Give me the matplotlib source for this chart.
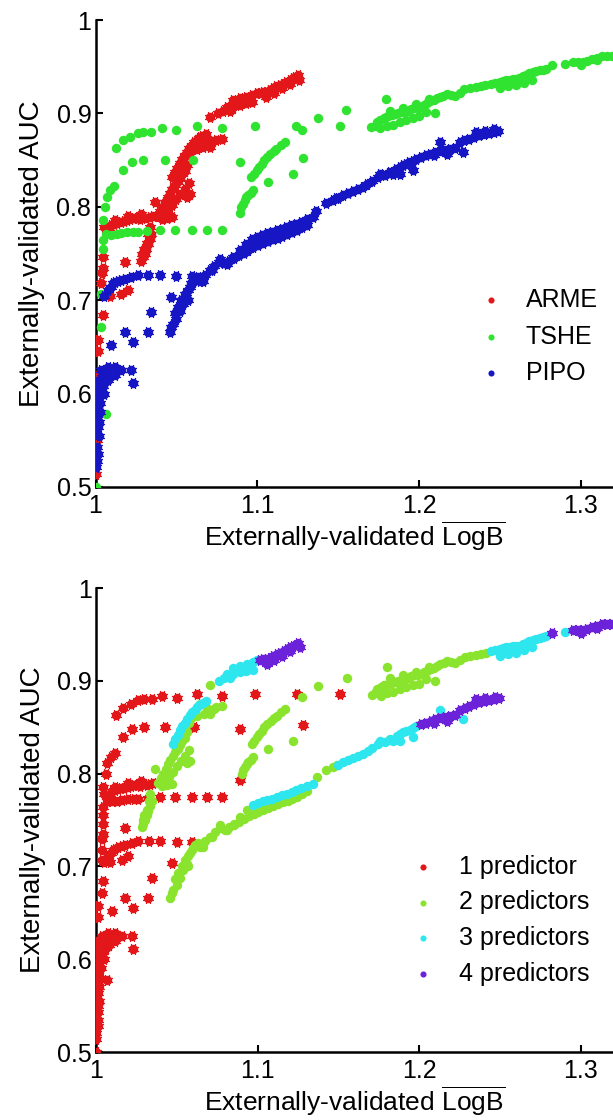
import matplotlib
matplotlib.use('Agg')
import matplotlib.pyplot as plt
from matplotlib.ticker import FixedLocator, FixedFormatter

plt.rcParams['font.family'] = ['Liberation Sans', 'DejaVu Sans']
plt.rcParams['mathtext.fontset'] = 'custom'
plt.rcParams['mathtext.rm'] = 'Liberation Sans'
plt.rcParams['mathtext.it'] = 'Liberation Sans:italic'

# ---------------- data (externally-validated LogB, AUC) ----------------
# ARME
arme_1_x = [1.0050, 1.0085, 1.0098, 1.0115, 1.0135, 1.0155, 1.0175, 1.0195, 1.0215, 1.0235, 1.0255,
            1.0275, 1.0295, 1.0314, 1.0334, 1.0355, 1.0120, 1.0200, 1.0280,
            1.0046, 1.0046, 1.0040, 1.0036, 1.0180, 1.0088, 1.0159, 1.0200, 1.0046,
            1.0015, 1.0015, 1.0000, 1.0005, 1.0000, 1.0010, 1.0000]
arme_1_y = [0.778, 0.777, 0.781, 0.782, 0.783, 0.784, 0.785, 0.786, 0.787, 0.788, 0.788,
            0.787, 0.789, 0.788, 0.789, 0.790, 0.786, 0.790, 0.792,
            0.746, 0.735, 0.729, 0.718, 0.741, 0.705, 0.707, 0.711, 0.684,
            0.657, 0.646, 0.620, 0.600, 0.585, 0.550, 0.514]
arme_2_x = [1.0334, 1.0345, 1.0335, 1.0324, 1.0313, 1.0303, 1.0293, 1.0283, 1.0290, 1.0300, 1.0316, 1.0326,
            1.0385, 1.0400, 1.0415, 1.0430, 1.0445, 1.0460, 1.0475, 1.0490, 1.0505, 1.0520, 1.0535, 1.0550,
            1.0425, 1.0450, 1.0475, 1.0500, 1.0525, 1.0550, 1.0575, 1.0408, 1.0439, 1.0470, 1.0367,
            1.0583, 1.0563,
            1.0604, 1.0645, 1.0686, 1.0727, 1.0779, 1.0666, 1.0707, 1.0625, 1.0575, 1.0565, 1.0590,
            1.0745, 1.0707]
arme_2_y = [0.778, 0.771, 0.765, 0.760, 0.755, 0.750, 0.746, 0.742, 0.750, 0.755, 0.761, 0.771,
            0.790, 0.795, 0.800, 0.805, 0.810, 0.815, 0.819, 0.823, 0.827, 0.831, 0.835, 0.838,
            0.791, 0.796, 0.802, 0.808, 0.814, 0.819, 0.825, 0.787, 0.788, 0.789, 0.805,
            0.814, 0.811,
            0.866, 0.875, 0.871, 0.870, 0.873, 0.864, 0.864, 0.862, 0.855, 0.845, 0.860,
            0.872, 0.896]
arme_3_x = [1.0475, 1.0490, 1.0505, 1.0520, 1.0535, 1.0550, 1.0565, 1.0580, 1.0595, 1.0610, 1.0625,
            1.0640, 1.0660, 1.0680,
            1.0759, 1.0790, 1.0810, 1.0830, 1.0850, 1.0870, 1.0890, 1.0910, 1.0933, 1.0950, 1.0970,
            1.0995, 1.0890, 1.0930, 1.0970, 1.0850]
arme_3_y = [0.832, 0.837, 0.842, 0.847, 0.851, 0.855, 0.859, 0.863, 0.866, 0.869, 0.872,
            0.874, 0.876, 0.878,
            0.900, 0.903, 0.907, 0.903, 0.914, 0.912, 0.916, 0.914, 0.918, 0.915, 0.920,
            0.922, 0.909, 0.911, 0.912, 0.907]
arme_4_x = [1.1015, 1.1035, 1.1056, 1.1076, 1.1097, 1.1118, 1.1138, 1.1160, 1.1180, 1.1200, 1.1220,
            1.1235, 1.1251, 1.1260, 1.1056, 1.1100, 1.1150, 1.1200, 1.1080, 1.1165]
arme_4_y = [0.922, 0.923, 0.923, 0.925, 0.927, 0.929, 0.930, 0.932, 0.934, 0.936, 0.938,
            0.939, 0.941, 0.936, 0.918, 0.922, 0.927, 0.932, 0.925, 0.932]

# TSHE
tshe_1_x = [1.0125, 1.0170, 1.0216, 1.0260, 1.0296, 1.0346, 1.0408, 1.0500, 1.0625, 1.0779, 1.0985,
            1.1242, 1.1509,
            1.0170, 1.0223, 1.0295, 1.0429, 1.0604, 1.0892, 1.1283,
            1.0046, 1.0060, 1.0068, 1.0090, 1.0117,
            1.0046, 1.0046, 1.0067, 1.0098, 1.0130, 1.0160, 1.0195, 1.0234, 1.0262, 1.0320, 1.0396,
            1.0490, 1.0594, 1.0686, 1.0779,
            1.0036, 1.0036, 1.0067, 1.0000, 1.0000, 1.0892]
tshe_1_y = [0.863, 0.871, 0.875, 0.879, 0.880, 0.880, 0.884, 0.882, 0.886, 0.884, 0.886,
            0.886, 0.886,
            0.839, 0.848, 0.850, 0.850, 0.850, 0.848, 0.852,
            0.786, 0.800, 0.811, 0.818, 0.822,
            0.755, 0.764, 0.771, 0.770, 0.771, 0.772, 0.7725, 0.773, 0.773, 0.774, 0.775,
            0.775, 0.775, 0.775, 0.775,
            0.707, 0.671, 0.578, 0.573, 0.500, 0.793]
tshe_2_x = [1.0902, 1.0912, 1.0923, 1.0933, 1.0943, 1.0958, 1.0974, 1.0964, 1.0980, 1.0995, 1.1010,
            1.1026, 1.1040, 1.1057, 1.1080, 1.1100, 1.1118, 1.1145, 1.1170, 1.1275, 1.1067, 1.1221,
            1.1375, 1.1550, 1.1797, 1.2095,
            1.1705, 1.1725, 1.1740, 1.1760, 1.1780, 1.1795, 1.1810, 1.1830, 1.1850, 1.1870, 1.1890,
            1.1910, 1.1930, 1.1950, 1.1970, 1.1990, 1.2010, 1.2030, 1.2050, 1.2070, 1.2090, 1.2110,
            1.2130, 1.2150, 1.2170, 1.2195, 1.2220, 1.2250, 1.2280, 1.2315, 1.2350, 1.2380, 1.2410,
            1.1760, 1.1800, 1.1840, 1.1880, 1.1920, 1.1960, 1.2000, 1.2040, 1.1820, 1.1900, 1.1980,
            1.2060]
tshe_2_y = [0.800, 0.8035, 0.807, 0.810, 0.8124, 0.815, 0.8178, 0.832, 0.8355, 0.839, 0.843,
            0.846, 0.850, 0.8535, 0.857, 0.860, 0.8624, 0.866, 0.8696, 0.8825, 0.8267, 0.8356,
            0.8946, 0.9035, 0.915, 0.900,
            0.885, 0.887, 0.891, 0.893, 0.895, 0.896, 0.897, 0.898, 0.899, 0.900, 0.901,
            0.902, 0.903, 0.905, 0.906, 0.906, 0.907, 0.909, 0.911, 0.913, 0.914, 0.916,
            0.918, 0.919, 0.921, 0.920, 0.919, 0.922, 0.926, 0.927, 0.928, 0.929, 0.930,
            0.884, 0.887, 0.888, 0.891, 0.893, 0.895, 0.897, 0.902, 0.903, 0.906, 0.910,
            0.915]
tshe_3_x = [1.2445, 1.2470, 1.2497, 1.2520, 1.2538, 1.2560, 1.2580, 1.2600, 1.2620, 1.2640, 1.2661,
            1.2680, 1.2702, 1.2722, 1.2744, 1.2765, 1.2785, 1.2500, 1.2550, 1.2600, 1.2650, 1.2700,
            1.2900]
tshe_3_y = [0.932, 0.933, 0.934, 0.935, 0.936, 0.936, 0.937, 0.937, 0.938, 0.940, 0.941,
            0.943, 0.944, 0.945, 0.946, 0.947, 0.948, 0.927, 0.929, 0.930, 0.933, 0.936,
            0.953]
tshe_4_x = [1.2820, 1.2950, 1.2980, 1.3010, 1.3040, 1.3070, 1.3100, 1.3130, 1.3160, 1.3190, 1.3000, 1.3100]
tshe_4_y = [0.952, 0.955, 0.955, 0.955, 0.956, 0.958, 0.959, 0.961, 0.961, 0.961, 0.952, 0.957]

# PIPO
pipo_1_x = [1.0050, 1.0077, 1.0095, 1.0108, 1.0120, 1.0139, 1.0160, 1.0180, 1.0220, 1.0260, 1.0325,
            1.0397, 1.0500, 1.0595,
            1.0345, 1.0324, 1.0180, 1.0231, 1.0098, 1.0468,
            1.0036, 1.0077, 1.0118, 1.0159, 1.0220, 1.0231, 1.0000, 1.0000, 1.0015, 1.0015, 1.0010,
            1.0015, 1.0010, 1.0010, 1.0000, 1.0040, 1.0060, 1.0030, 1.0050, 1.0080, 1.0120, 1.0020,
            1.0030, 1.0025, 1.0045, 1.0070, 1.0015, 1.0020, 1.0005]
pipo_1_y = [0.705, 0.711, 0.714, 0.718, 0.719, 0.721, 0.722, 0.723, 0.725, 0.727, 0.727,
            0.727, 0.726, 0.726,
            0.687, 0.666, 0.666, 0.655, 0.652, 0.7035,
            0.625, 0.6285, 0.6285, 0.625, 0.625, 0.611, 0.614, 0.607, 0.596, 0.586, 0.575,
            0.564, 0.543, 0.528, 0.521, 0.618, 0.612, 0.605, 0.600, 0.615, 0.620, 0.555,
            0.590, 0.580, 0.608, 0.622, 0.535, 0.570, 0.600]
pipo_2_x = [1.0458, 1.0468, 1.0478, 1.0489, 1.0499, 1.0509, 1.0520, 1.0530, 1.0540, 1.0550, 1.0560,
            1.0570, 1.0581, 1.0592, 1.0602, 1.0612, 1.0633, 1.0664, 1.0570,
            1.0645, 1.0675, 1.0705, 1.0735, 1.0765, 1.0795, 1.0825, 1.0855, 1.0885, 1.0915, 1.0945,
            1.0975, 1.1005, 1.1035, 1.1065, 1.1095, 1.1125, 1.1155, 1.1185, 1.1215, 1.1245, 1.1275,
            1.1305, 1.1365, 1.1425, 1.1465, 1.1488, 1.1815, 1.0717, 1.0810, 1.0769, 1.0851, 1.0892,
            1.0933]
pipo_2_y = [0.666, 0.671, 0.675, 0.686, 0.680, 0.693, 0.688, 0.700, 0.696, 0.707, 0.703,
            0.711, 0.714, 0.718, 0.720, 0.723, 0.725, 0.721, 0.700,
            0.721, 0.727, 0.732, 0.737, 0.741, 0.7395, 0.742, 0.745, 0.748, 0.751, 0.754,
            0.757, 0.759, 0.761, 0.763, 0.765, 0.767, 0.769, 0.771, 0.773, 0.775, 0.778,
            0.781, 0.796, 0.804, 0.807, 0.809, 0.836, 0.732, 0.739, 0.7445, 0.746, 0.7535,
            0.7606]
pipo_3_x = [1.0970, 1.1000, 1.1030, 1.1060, 1.1090, 1.1120, 1.1150, 1.1180, 1.1210, 1.1240, 1.1270,
            1.1304, 1.1344, 1.1500, 1.1530, 1.1560, 1.1590, 1.1620, 1.1650, 1.1680, 1.1710, 1.1745,
            1.1756, 1.1790, 1.1820, 1.1838, 1.1860, 1.1880, 1.1900, 1.1920, 1.1940, 1.1960, 1.1980,
            1.1879, 1.1962, 1.2126, 1.2270]
pipo_3_y = [0.766, 0.768, 0.770, 0.7715, 0.773, 0.775, 0.7765, 0.778, 0.780, 0.782, 0.784,
            0.787, 0.789, 0.809, 0.8124, 0.815, 0.817, 0.819, 0.8215, 0.8245, 0.828, 0.832,
            0.8356, 0.8345, 0.837, 0.8356, 0.8405, 0.843, 0.8445, 0.846, 0.8475, 0.849, 0.851,
            0.8356, 0.8392, 0.869, 0.859]
pipo_4_x = [1.2010, 1.2040, 1.2070, 1.2100, 1.2130, 1.2160, 1.2190, 1.2220, 1.2090, 1.2170, 1.2250,
            1.2280, 1.2310, 1.2340, 1.2370, 1.2400, 1.2430, 1.2460, 1.2490, 1.2465, 1.2350, 1.2405]
pipo_4_y = [0.853, 0.855, 0.857, 0.859, 0.860, 0.861, 0.862, 0.863, 0.855, 0.857, 0.869,
            0.871, 0.873, 0.875, 0.877, 0.878, 0.879, 0.880, 0.881, 0.883, 0.880, 0.881]

species = ['ARME', 'TSHE', 'PIPO']
pred_labels = ['1 predictor', '2 predictors', '3 predictors', '4 predictors']
clusters = {
    ('ARME', 1): (arme_1_x, arme_1_y), ('ARME', 2): (arme_2_x, arme_2_y),
    ('ARME', 3): (arme_3_x, arme_3_y), ('ARME', 4): (arme_4_x, arme_4_y),
    ('TSHE', 1): (tshe_1_x, tshe_1_y), ('TSHE', 2): (tshe_2_x, tshe_2_y),
    ('TSHE', 3): (tshe_3_x, tshe_3_y), ('TSHE', 4): (tshe_4_x, tshe_4_y),
    ('PIPO', 1): (pipo_1_x, pipo_1_y), ('PIPO', 2): (pipo_2_x, pipo_2_y),
    ('PIPO', 3): (pipo_3_x, pipo_3_y), ('PIPO', 4): (pipo_4_x, pipo_4_y),
}

species_colors = {'ARME': '#e3161a', 'TSHE': '#30e330', 'PIPO': '#1616c4'}
species_spiky = {'ARME': True, 'TSHE': False, 'PIPO': True}
pred_colors = ['#e3161a', '#8ae42e', '#2ee6ee', '#6c22d8']
pred_spiky = [True, False, False, True]

xticks = [1.0, 1.1, 1.2, 1.3]
xticklabels = ['1', '1.1', '1.2', '1.3']
yticks = [0.5, 0.6, 0.7, 0.8, 0.9, 1.0]
yticklabels = ['0.5', '0.6', '0.7', '0.8', '0.9', '1']

W, H = 613, 1120
fig = plt.figure(figsize=(W / 100, H / 100), dpi=100)
ax_top = fig.add_axes([95.5 / W, 1 - 487 / H, (W - 95.5) / W, (487 - 20) / H])
ax_bot = fig.add_axes([96 / W, 1 - 1052 / H, (W - 96) / W, (1052 - 588) / H])


def draw(ax, x, y, color, spiky, label):
    h = ax.scatter(x, y, s=46, c=color, marker='o', linewidths=0, label=label, zorder=3)
    if spiky:
        ax.scatter(x, y, s=62, c=color, marker=(8, 2, 22.5), linewidths=0.8, zorder=3)
    return h


def style(ax):
    ax.set_xlim(1.0, 1.3198)
    ax.set_ylim(0.5, 1.0)
    ax.spines['top'].set_visible(False)
    ax.spines['right'].set_visible(False)
    for s in ['left', 'bottom']:
        ax.spines[s].set_linewidth(1.8)
    ax.xaxis.set_major_locator(FixedLocator(xticks))
    ax.xaxis.set_major_formatter(FixedFormatter(xticklabels))
    ax.yaxis.set_major_locator(FixedLocator(yticks))
    ax.yaxis.set_major_formatter(FixedFormatter(yticklabels))
    ax.tick_params(direction='in', length=5, width=1.5, labelsize=18)
    ax.tick_params(axis='x', pad=5)
    ax.tick_params(axis='y', pad=3)
    ax.set_xlabel(r'Externally-validated $\overline{\mathrm{LogB}}$', fontsize=19, labelpad=1)
    ax.set_ylabel('Externally-validated AUC', fontsize=20, labelpad=8)
    ax.set_facecolor('white')


handles = []
for sp in species:
    xs, ys = [], []
    for n in range(1, 5):
        cx, cy = clusters[(sp, n)]
        xs += cx
        ys += cy
    handles.append(draw(ax_top, xs, ys, species_colors[sp], species_spiky[sp], sp))
style(ax_top)
ax_top.legend(handles=handles, loc='upper left', bbox_to_anchor=(478.5 / W, 1 - 288 / H),
              bbox_transform=fig.transFigure, frameon=False, fontsize=18, borderpad=0,
              borderaxespad=0, handlelength=1.0, handletextpad=0.9, labelspacing=0.5,
              markerscale=0.65)

handles = []
for n in range(1, 5):
    xs, ys = [], []
    for sp in species:
        cx, cy = clusters[(sp, n)]
        xs += cx
        ys += cy
    handles.append(draw(ax_bot, xs, ys, pred_colors[n - 1], pred_spiky[n - 1], pred_labels[n - 1]))
style(ax_bot)
ax_bot.legend(handles=handles, loc='upper left', bbox_to_anchor=(410.5 / W, 1 - 855 / H),
              bbox_transform=fig.transFigure, frameon=False, fontsize=18, borderpad=0,
              borderaxespad=0, handlelength=1.0, handletextpad=0.94, labelspacing=0.46,
              markerscale=0.65)

fig.savefig('out.png', dpi=100, facecolor='white')
